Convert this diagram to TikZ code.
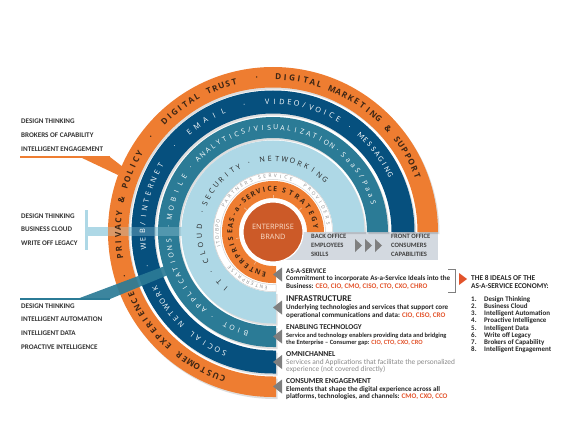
\documentclass[tikz,border=0pt]{standalone}
\usepackage{fontspec}
\setmainfont{Carlito}
\newfontfamily\ringfamily{Open Sans}
\usetikzlibrary{positioning}

\definecolor{ringorange}{HTML}{EE7D31}
\definecolor{brandred}{HTML}{CC5A28}
\definecolor{navyring}{HTML}{06507E}
\definecolor{tealring}{HTML}{2B7B96}
\definecolor{skyring}{HTML}{AED8E6}
\definecolor{bandgrey}{HTML}{D3D9E0}
\definecolor{notchgrey}{HTML}{7F7F7F}
\definecolor{rolered}{HTML}{E2532B}
\definecolor{inkdark}{HTML}{262626}
\definecolor{inkbrown}{HTML}{3E2614}
\definecolor{softgrey}{HTML}{8A8A8A}
\definecolor{brandtext}{HTML}{FADFCB}

% fonts of the ring labels
\newcommand\ringA{\ringfamily\bfseries\fontsize{8.3}{9}\selectfont\color{inkbrown}}
\newcommand\ringB{\ringfamily\fontsize{7.4}{8}\selectfont\color{white}}
\newcommand\ringBc{\fontsize{7.8}{8}\selectfont\color{white}}
\newcommand\ringC{\ringfamily\fontsize{7}{8}\selectfont\color{white}}
\newcommand\ringD{\ringfamily\fontsize{7.2}{8}\selectfont\color{inkdark}}
\newcommand\ringE{\ringfamily\fontsize{4.8}{5}\selectfont\color{softgrey}}
\newcommand\ringF{\ringfamily\bfseries\fontsize{7}{8}\selectfont\color{inkbrown}}

\newcommand\roles[1]{\textcolor{rolered}{#1}}

% one glyph on a ring, tops outward
\newcommand\ringchar[3]{\node[ringglyph, rotate=#1-90] at (#1:#2) {#3};}

% annular band from 0 to 270 degrees, cut square at the bottom
\newcommand\ringband[4][]{%
  \path[fill=#4, #1] (0:#3) arc[start angle=0, end angle=270, radius=#3] -- (3,-#3) -- (3,-#2)
    -- (270:#2) arc[start angle=270, end angle=0, radius=#2] -- cycle;}

% grey pointer at the end of a ring
\newcommand\notch[1]{\fill[notchgrey] (0,-#1) -- (9,-#1+7) -- (9,-#1-7) -- cycle;}

\ExplSyntaxOn
\box_new:N \l__arc_glyph_box
\dim_new:N \l__arc_total_dim
\int_new:N \l__arc_count_int
\fp_new:N \l__arc_angle_fp
\fp_new:N \l__arc_track_fp
\tl_new:N \l__arc_pos_tl
% #1 font, #2 baseline radius, #3 start angle, #4 end angle, #5 text (clockwise)
\NewDocumentCommand \arctext { m m m m m }
  {
    \dim_zero:N \l__arc_total_dim
    \int_zero:N \l__arc_count_int
    \str_map_inline:nn {#5}
      {
        \hbox_set:Nn \l__arc_glyph_box { #1 ##1 }
        \dim_add:Nn \l__arc_total_dim { \box_wd:N \l__arc_glyph_box }
        \int_incr:N \l__arc_count_int
      }
    \fp_set:Nn \l__arc_track_fp
      {
        ( ((#3) - (#4)) * pi / 180 * (#2) - \dim_to_fp:n { \l__arc_total_dim } )
        / max ( \l__arc_count_int - 1 , 1 )
      }
    \fp_set:Nn \l__arc_angle_fp {#3}
    \str_map_inline:nn {#5}
      {
        \hbox_set:Nn \l__arc_glyph_box { #1 ##1 }
        \tl_set:Nx \l__arc_pos_tl
          { \fp_eval:n { round ( \l__arc_angle_fp - \dim_to_fp:n { \box_wd:N \l__arc_glyph_box } / 2 / (#2) * 180 / pi , 3 ) } }
        \ringchar { \l__arc_pos_tl } {#2} { #1 ##1 }
        \fp_set:Nn \l__arc_angle_fp
          { \l__arc_angle_fp - ( \dim_to_fp:n { \box_wd:N \l__arc_glyph_box } + \l__arc_track_fp ) / (#2) * 180 / pi }
      }
  }
\ExplSyntaxOff

\begin{document}
\begin{tikzpicture}[
    x=1pt, y=1pt,
    ringglyph/.style={inner sep=0pt, anchor=base},
    ringshadow/.style={black, opacity=0.13, shift={(1.5,-2)}},
    brand/.style={circle, fill=brandred, draw=white, line width=1.2pt, minimum size=60pt,
        inner sep=0pt, align=center, text=brandtext, font=\ringfamily\fontsize{7.4}{10}\selectfont},
    bandtext/.style={anchor=west, align=left, inner sep=0pt, text=black!75,
        font=\bfseries\fontsize{6.6}{9}\selectfont},
    idealgroup/.style={anchor=north west, align=left, inner sep=0pt, text=black!80,
        font=\bfseries\fontsize{7.1}{13.6}\selectfont},
    desc/.style={anchor=north west, align=left, inner sep=0pt, text=inkdark,
        font=\bfseries\fontsize{7.1}{7.6}\selectfont},
    chevron/.style={fill=notchgrey},
    bracketline/.style={draw=notchgrey, line width=0.8pt},
]
\useasboundingbox (-273,-202) rectangle (305,232);

% --- callout band behind the rings ---
\fill[skyring] (-188,22) rectangle (-185,-18);
\fill[skyring] (-186,5) rectangle (-90,-4);

% --- office band ---
\fill[bandgrey] (0,0) rectangle (165,-28);

% --- soft shadows ---
\ringband[ringshadow]{144.5}{165}{black}
\ringband[ringshadow]{118.5}{141.5}{black}
\ringband[ringshadow]{94}{115}{black}
\ringband[ringshadow]{60}{91.5}{black}

% --- rings ---
\ringband{144.5}{165}{ringorange}
\ringband{118.5}{141.5}{navyring}
\ringband{94}{115}{tealring}
\ringband{60}{91.5}{skyring}
\ringband[draw=black!18, line width=0.5pt]{52.5}{59.5}{white}
\ringband{34}{51}{ringorange}
\foreach \a in {40,90,140,190,240}
  \draw[ringorange!55!white, line width=0.6pt] (\a:34) -- (\a:37.5);

% the band shows faintly through the rings
\fill[skyring, opacity=0.3] (-165,5) rectangle (-90,-4);

% --- pointers at the ring ends ---
\notch{42.5}
\notch{75.5}
\notch{104.5}
\notch{130}
\notch{154.5}

% --- callout wedges ---
\fill[ringorange] (-253,76) rectangle (-163,74);
\fill[ringorange] (-193,75) -- (-163,75) -- (-150,65) -- (-155,57) -- cycle;
\fill[tealring] (-253,-66) rectangle (-163,-68);
\fill[tealring, opacity=0.92] (-196,-67) -- (-163,-67) -- (-105,-43) -- (-108,-34) -- cycle;

% --- brand ---
\node[brand] (brand) at (0,0) {ENTERPRISE\\BRAND};

% --- outer ring labels ---
\arctext{\ringA}{152}{-109}{-156}{CUSTOMER EXPERIENCE}
\ringchar{-163.5}{152}{\ringA ·}
\arctext{\ringA}{152}{-171}{-210.5}{PRIVACY & POLICY}
\ringchar{142}{152}{\ringA ·}
\arctext{\ringA}{152}{134.5}{104.5}{DIGITAL TRUST}
\ringchar{96}{152}{\ringA ·}
\arctext{\ringA}{152}{88}{21.5}{DIGITAL MARKETING & SUPPORT}

% --- channel ring labels ---
\arctext{\ringB}{127.8}{-112}{-154.5}{SOCIAL NETWORK}
\ringchar{-164.6}{127.8}{\ringB ·}
\arctext{\ringB}{127.8}{-173.5}{-210.5}{WEB/INTERNET}
\ringchar{139}{127.8}{\ringB ·}
\arctext{\ringB}{127.8}{130}{112.5}{EMAIL}
\ringchar{102.7}{127.8}{\ringB ·}
\arctext{\ringB}{127.8}{92.5}{60}{VIDEO/VOICE}
\ringchar{54}{127.8}{\ringB ·}
\arctext{\ringBc}{127.8}{47.5}{26}{MESSAGING}

% --- technology ring labels ---
\arctext{\ringC}{102}{-105}{-117}{BIOT}
\ringchar{-125.6}{102}{\ringC ·}
\arctext{\ringC}{102}{-131.5}{-175}{APPLICATIONS}
\ringchar{-183.3}{102}{\ringC ·}
\arctext{\ringC}{102}{-188.5}{-212}{MOBILE}
\ringchar{142}{102}{\ringC ·}
\arctext{\ringC}{102}{136}{55.5}{ANALYTICS/VISUALIZATION}
\ringchar{51.7}{102}{\ringC ·}
\arctext{\ringC}{102}{47.5}{16.5}{SaaS/PaaS}

% --- infrastructure ring labels ---
\arctext{\ringD}{71}{-130}{-137}{IT}
\ringchar{-147}{71}{\ringD ·}
\arctext{\ringD}{71}{-156}{-184}{CLOUD}
\ringchar{164}{71}{\ringD ·}
\arctext{\ringD}{71}{157.5}{118}{SECURITY}
\ringchar{109}{71}{\ringD ·}
\arctext{\ringD}{71}{98.5}{45}{NETWORKING}

% --- partner ring labels ---
\arctext{\ringE}{54.3}{-97}{-141}{ENTERPRISE}
\arctext{\ringE}{54.3}{-165}{-191}{ITO/BPO}
\arctext{\ringE}{54.3}{152}{113}{PARTNERS}
\arctext{\ringE}{54.3}{104}{71}{SERVICE}
\arctext{\ringE}{54.3}{55}{9}{PROVIDERS}

% --- strategy ring labels ---
\arctext{\ringF}{40.5}{-102}{-180}{ENTERPRISE}
\arctext{\ringF}{40.5}{171}{87}{AS-a-SERVICE}
\arctext{\ringF}{40.5}{75}{7}{STRATEGY}

% --- office band texts ---
\node[bandtext] (back) at (38,-13) {BACK OFFICE\\EMPLOYEES\\SKILLS};
\foreach \i in {0,1,2}
  \fill[chevron] (82+10*\i,-7) -- (89+10*\i,-13.5) -- (82+10*\i,-20) -- cycle;
\node[bandtext] (front) at (118,-13) {FRONT OFFICE\\CONSUMERS\\CAPABILITIES};

% --- left callouts ---
\node[idealgroup] (engage) at (-252,113) {DESIGN THINKING\\BROKERS OF CAPABILITY\\INTELLIGENT ENGAGEMENT};
\node[idealgroup] (cloud) at (-252,18.5) {DESIGN THINKING\\BUSINESS CLOUD\\WRITE OFF LEGACY};
\node[idealgroup] (intel) at (-252,-71.5) {DESIGN THINKING\\INTELLIGENT AUTOMATION\\INTELLIGENT DATA\\PROACTIVE INTELLIGENCE};

% --- descriptions ---
\node[desc] (asas) at (13,-36.5) {AS-A-SERVICE\\
  Commitment to incorporate As-a-Service Ideals into the\\
  Business: \roles{CEO, CIO, CMO, CISO, CTO, CXO, CHRO}};
\node[desc] (infra) at (13,-64) {{\fontsize{8.8}{7.6}\selectfont INFRASTRUCTURE}\\
  Underlying technologies and services that support core\\
  operational communications and data: \roles{CIO, CISO, CRO}};
\node[desc] (enabling) at (13,-92.5) {{\fontsize{7.4}{7.6}\selectfont ENABLING TECHNOLOGY}\\
  {\fontsize{6.4}{7}\selectfont Service and technology enablers providing data and bridging}\\
  {\fontsize{6.4}{7}\selectfont the Enterprise -- Consumer gap: \roles{CIO, CTO, CXO, CRO}}};
\node[desc] (omni) at (13,-119.5) {{\fontsize{7.6}{7.6}\selectfont OMNICHANNEL}\\
  {\mdseries\fontsize{7.4}{7.6}\selectfont\color{softgrey}Services and Applications that facilitate the personalized}\\
  {\mdseries\fontsize{7.4}{7.6}\selectfont\color{softgrey}experience (not covered directly)}};
\node[desc] (consumer) at (13,-146.5) {{\fontsize{7.6}{7.6}\selectfont CONSUMER ENGAGEMENT}\\
  Elements that shape the digital experience across all\\
  platforms, technologies, and channels: \roles{CMO, CXO, CCO}};

% --- bracket to the ideals ---
\draw[bracketline] (175,-37) -- (182,-37) -- (182,-60) -- (175,-60);
\fill[rolered] (186,-41) -- (194,-47) -- (186,-53) -- cycle;

\node[desc, font=\bfseries\fontsize{7.4}{7.3}\selectfont] (idealtitle) at (198,-43.5)
  {THE 8 IDEALS OF THE\\AS-A-SERVICE ECONOMY:};
\node[desc, font=\bfseries\fontsize{7}{7.1}\selectfont] (ideallist) at (198,-64.5)
  {\makebox[13pt][l]{1.}Design Thinking\\
   \makebox[13pt][l]{2.}Business Cloud\\
   \makebox[13pt][l]{3.}Intelligent Automation\\
   \makebox[13pt][l]{4.}Proactive Intelligence\\
   \makebox[13pt][l]{5.}Intelligent Data\\
   \makebox[13pt][l]{6.}Write off Legacy\\
   \makebox[13pt][l]{7.}Brokers of Capability\\
   \makebox[13pt][l]{8.}Intelligent Engagement};
\end{tikzpicture}
\end{document}
